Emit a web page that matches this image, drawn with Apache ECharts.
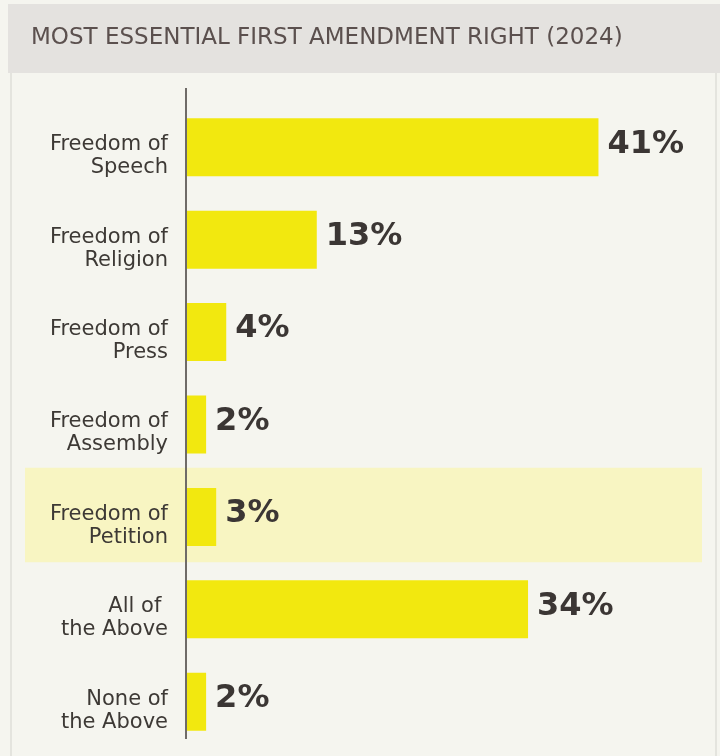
<!DOCTYPE html>
<html>
<head>
<meta charset="utf-8">
<script src="https://cdn.jsdelivr.net/npm/echarts@6/dist/echarts.min.js"></script>
<style>
  html, body { margin: 0; padding: 0; background: #f5f5ef; }
  #chart { width: 720px; height: 756px; }
</style>
</head>
<body>
<div id="chart"></div>
<script>
// most essential first amendment right, 2024 survey
const categories = [
  'Freedom of\nSpeech',
  'Freedom of\nReligion',
  'Freedom of\nPress',
  'Freedom of\nAssembly',
  'Freedom of\nPetition',
  'All of \nthe Above',
  'None of\nthe Above'
]
const values = [41, 13, 4, 2, 3, 34, 2]
const highlighted = 'Freedom of\nPetition'
const titleText = 'MOST ESSENTIAL FIRST AMENDMENT RIGHT (2024)'

const font = 'DejaVu Sans'
const gridTop = 101
const gridBottom = 8
const chart = echarts.init(document.getElementById('chart'))

chart.setOption({
  backgroundColor: '#f5f5ef',
  animation: false,
  title: {
    text: titleText,
    left: 26,
    top: 22,
    textStyle: { fontFamily: font, fontSize: 23, fontWeight: 'normal', color: '#5b504e' }
  },
  grid: { left: 186, right: 31, top: gridTop, bottom: gridBottom },
  xAxis: {
    type: 'value',
    min: 0,
    max: 50,
    show: false
  },
  yAxis: {
    type: 'category',
    data: categories,
    inverse: true,
    axisLine: { show: false },
    axisTick: { show: false },
    axisLabel: {
      margin: 18,
      fontFamily: font,
      fontSize: 21,
      lineHeight: 23,
      color: '#3d3935',
      align: 'right',
      // empty spacer line on top pushes the two-line label a little below the bar centre
      formatter: v => '{gap| }\n' + v,
      rich: { gap: { fontSize: 1, lineHeight: 18 } }
    }
  },
  series: [{
    type: 'bar',
    data: values,
    barWidth: 58,
    itemStyle: { color: '#f2e80f' },
    label: {
      show: true,
      position: 'right',
      distance: 9,
      formatter: '{c}%',
      fontFamily: font,
      fontSize: 32,
      fontWeight: 'bold',
      color: '#3b3634',
      offset: [0, -3]
    },
    z: 3
  }]
})

// decorations: header bar, panel borders, axis rule, highlight band behind one row
const bandIdx = categories.indexOf(highlighted)
const cy = chart.convertToPixel({ yAxisIndex: 0 }, bandIdx)
const x0 = chart.convertToPixel({ xAxisIndex: 0 }, 0)
const step = (chart.getHeight() - gridTop - gridBottom) / categories.length

chart.setOption({
  graphic: [
    { type: 'rect', z: -10, silent: true, shape: { x: 8, y: 4, width: 712, height: 69 }, style: { fill: '#e4e2df' } },
    { type: 'rect', z: -10, silent: true, shape: { x: 10, y: 73, width: 2, height: 683 }, style: { fill: '#e4e4de' } },
    { type: 'rect', z: -10, silent: true, shape: { x: 715, y: 73, width: 2, height: 683 }, style: { fill: '#e4e4de' } },
    { type: 'rect', z: -10, silent: true, shape: { x: 25, y: cy - step / 2 - 3, width: 677, height: step + 2 }, style: { fill: '#f8f5c2' } },
    { type: 'line', z: 10, silent: true, shape: { x1: x0, y1: 88, x2: x0, y2: 739 }, style: { stroke: '#6f6b67', lineWidth: 2 } }
  ]
})
</script>
</body>
</html>
